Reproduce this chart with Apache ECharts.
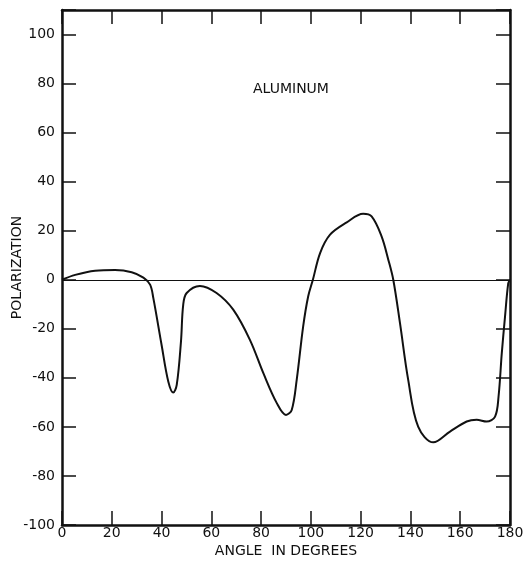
<!DOCTYPE html>
<html>
<head>
<meta charset="utf-8">
<script src="https://cdn.jsdelivr.net/npm/echarts@6/dist/echarts.min.js"></script>
<style>
  html, body { margin: 0; padding: 0; background: #fff; }
  #chart { width: 523px; height: 569px; }
</style>
</head>
<body>
<div id="chart"></div>
<script>
// angle (deg) and polarization (%)
const angles = [0, 5.3, 13.3, 21.3, 28, 32.7, 35.4, 36.7, 40, 42.7, 44.7, 46.1, 47.8, 48.7, 50.1, 55.4,
  62.1, 68.8, 75.5, 80.9, 86.3, 90, 92.3, 94.3, 96.9, 98.9, 100.8, 103.7, 107.7, 114.4, 121, 124.4,
  128.4, 131.1, 133.1, 135.8, 139.1, 143.1, 149.2, 155.9, 162.6, 166.6, 170.6, 174, 175.4, 176.7,
  178, 179.3, 180]
const polarization = [0, 2, 3.7, 4, 3.1, 0.9, -2, -7.5, -26.5, -41.5, -46, -42.9, -25.2, -10.2, -5.4, -2.5,
  -5.4, -12.2, -24.5, -38.1, -50.3, -55.1, -53.1, -40.8, -19, -6.8, 0, 10.9, 18.4, 23.4, 26.9, 25.8,
  17.7, 8.2, 0, -17.7, -40.8, -59.9, -66.3, -61.9, -57.8, -57.1, -57.8, -55.8, -47.6, -29.9,
  -15, -1.4, 0]
const xTicks = [0, 20, 40, 60, 80, 100, 120, 140, 160, 180]
const yTicks = [-100, -80, -60, -40, -20, 0, 20, 40, 60, 80, 100]

const font = 'DejaVu Sans'
const chart = echarts.init(document.getElementById('chart'))

const frameLine = { show: true, onZero: false, lineStyle: { color: '#111', width: 2.5 } }
const tick = { show: true, inside: true, length: 14, lineStyle: { color: '#111', width: 1.5 } }

const option = {
  animation: false,
  grid: { left: 62, right: 13, top: 10, bottom: 44, containLabel: false, outerBoundsMode: 'none' },
  xAxis: [
    {
      type: 'value',
      min: xTicks[0],
      max: xTicks[xTicks.length - 1],
      interval: 20,
      axisLine: frameLine,
      axisTick: tick,
      splitLine: { show: false },
      axisLabel: { color: '#111', fontFamily: font, fontSize: 14, margin: 1 },
      name: 'ANGLE  IN DEGREES',
      nameLocation: 'middle',
      nameGap: 19,
      nameMoveOverlap: false,
      nameTextStyle: { color: '#111', fontFamily: font, fontSize: 14 }
    },
    {
      type: 'value',
      position: 'top',
      min: xTicks[0],
      max: xTicks[xTicks.length - 1],
      interval: 20,
      axisLine: frameLine,
      axisTick: tick,
      splitLine: { show: false },
      axisLabel: { show: false }
    }
  ],
  yAxis: [
    {
      type: 'value',
      min: yTicks[0],
      max: 110,
      interval: 20,
      axisLine: frameLine,
      axisTick: tick,
      splitLine: { show: false },
      axisLabel: {
        color: '#111', fontFamily: font, fontSize: 14, margin: 7,
        formatter: v => (yTicks.indexOf(v) >= 0 ? String(v) : '')
      },
      name: 'POLARIZATION',
      nameLocation: 'middle',
      nameGap: 38,
      nameMoveOverlap: false,
      nameRotate: 90,
      nameTextStyle: { color: '#111', fontFamily: font, fontSize: 14 }
    },
    {
      type: 'value',
      position: 'right',
      min: yTicks[0],
      max: 110,
      interval: 20,
      axisLine: frameLine,
      axisTick: tick,
      splitLine: { show: false },
      axisLabel: { show: false }
    }
  ],
  graphic: [
    {
      type: 'text',
      left: 253,
      top: 82,
      style: { text: 'ALUMINUM', font: '14px "DejaVu Sans"', fill: '#111' }
    }
  ],
  series: [
    {
      type: 'line',
      data: angles.map((a, i) => [a, polarization[i]]),
      smooth: 0.35,
      symbol: 'none',
      lineStyle: { color: '#111', width: 2 },
      markLine: {
        silent: true,
        symbol: 'none',
        label: { show: false },
        lineStyle: { color: '#111', width: 1, type: 'solid' },
        data: [{ yAxis: 0 }]
      }
    }
  ]
}

chart.setOption(option)
</script>
</body>
</html>
